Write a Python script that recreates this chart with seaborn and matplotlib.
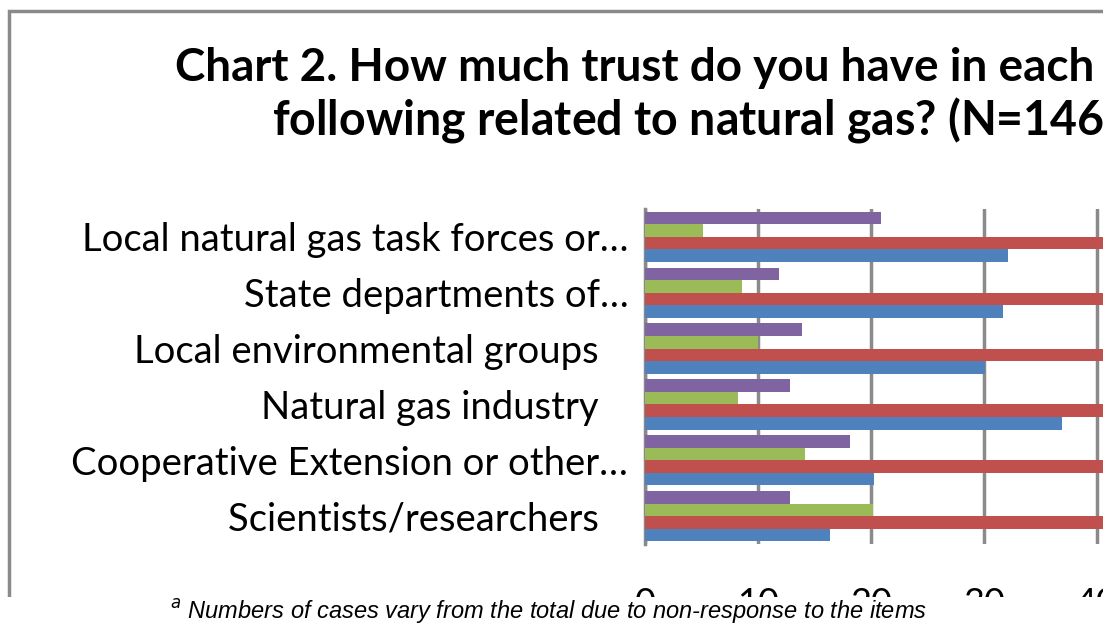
import numpy as np
import pandas as pd
import seaborn as sns
import matplotlib.pyplot as plt
from matplotlib.patches import Rectangle

# values (percent of respondents); red series runs past the visible edge
categories = [
    "Local natural gas task forces or…",
    "State departments of…",
    "Local environmental groups   ",
    "Natural gas industry   ",
    "Cooperative Extension or other…",
    "Scientists/researchers   ",
]
series_names = ["Some", "A great deal", "A little", "None"]
series_colors = ["#8064A2", "#9BBB59", "#C0504D", "#4F81BD"]
purple_vals = [20.9, 11.9, 13.9, 12.8, 18.1, 12.8]
green_vals = [5.1, 8.6, 10.0, 8.2, 14.2, 20.2]
red_vals = [41.9, 47.8, 46.0, 42.1, 47.4, 50.6]
blue_vals = [32.1, 31.7, 30.1, 36.9, 20.3, 16.4]
x_ticks = [0, 10, 20, 30, 40]

W, H = 1103, 635

rows = []
for name, vals in zip(series_names, [purple_vals, green_vals, red_vals, blue_vals]):
    for cat, v in zip(categories, vals):
        rows.append({"category": cat, "series": name, "value": v})
df = pd.DataFrame(rows)

sns.set_theme(style="white")
plt.rcParams["font.family"] = ["Lato", "DejaVu Sans"]
plt.rcParams["text.color"] = "black"

fig = plt.figure(figsize=(W / 100, H / 100), dpi=100)
fig.patch.set_facecolor("white")

# axes placed in pixel terms: left edge 645, plot spans y 209..544
ax_left, ax_top, ax_bottom = 645, 209, 544
px_per_unit = 11.3
x_max = (W - ax_left) / px_per_unit
ax = fig.add_axes([ax_left / W, 1 - ax_bottom / H, (W - ax_left) / W, (ax_bottom - ax_top) / H])

sns.barplot(data=df, x="value", y="category", hue="series", order=categories,
            hue_order=series_names, palette=series_colors, width=0.9, saturation=1,
            orient="h", ax=ax, legend=False, zorder=3, linewidth=0)

ax.set_xlim(0, x_max)
ax.set_xticks(x_ticks)
ax.set_xlabel("")
ax.set_ylabel("")
ax.grid(axis="x", color="#8A8A8A", linewidth=2.5, zorder=0)
ax.grid(axis="y", visible=False)
for side in ["top", "right", "bottom"]:
    ax.spines[side].set_visible(False)
ax.spines["left"].set_color("#8A8A8A")
ax.spines["left"].set_linewidth(2.5)
ax.tick_params(axis="y", length=0, pad=12, labelsize=27.5, labelcolor="black")
ax.tick_params(axis="x", length=0, pad=31, labelsize=26, labelcolor="black")

# chart frame (only left and top edges visible in the crop)
fig.add_artist(Rectangle((8.5 / W, -0.1), 1.2, 1 - 11 / H + 0.1, transform=fig.transFigure,
                         fill=False, edgecolor="#8A8A8A", linewidth=2.5, zorder=2))

fig.text(175 / W, 1 - 68 / H, "Chart 2. How much trust do you have in each of the",
         ha="left", va="center", fontsize=33, fontweight="bold")
fig.text(272 / W, 1 - 120 / H, "following related to natural gas? (N=146)$^a$",
         ha="left", va="center", fontsize=33.5, fontweight="bold")

# crop band at the bottom with the footnote
fig.add_artist(Rectangle((0, 0), 1, (H - 597) / H, transform=fig.transFigure,
                         facecolor="white", edgecolor="none", zorder=5))
fig.text(549 / W, 1 - 611 / H, "$^{a}$ Numbers of cases vary from the total due to non-response to the items",
         ha="center", va="center", fontsize=17, fontstyle="italic",
         family=["Liberation Sans", "DejaVu Sans"], zorder=6)

fig.savefig("out.png", dpi=100)
